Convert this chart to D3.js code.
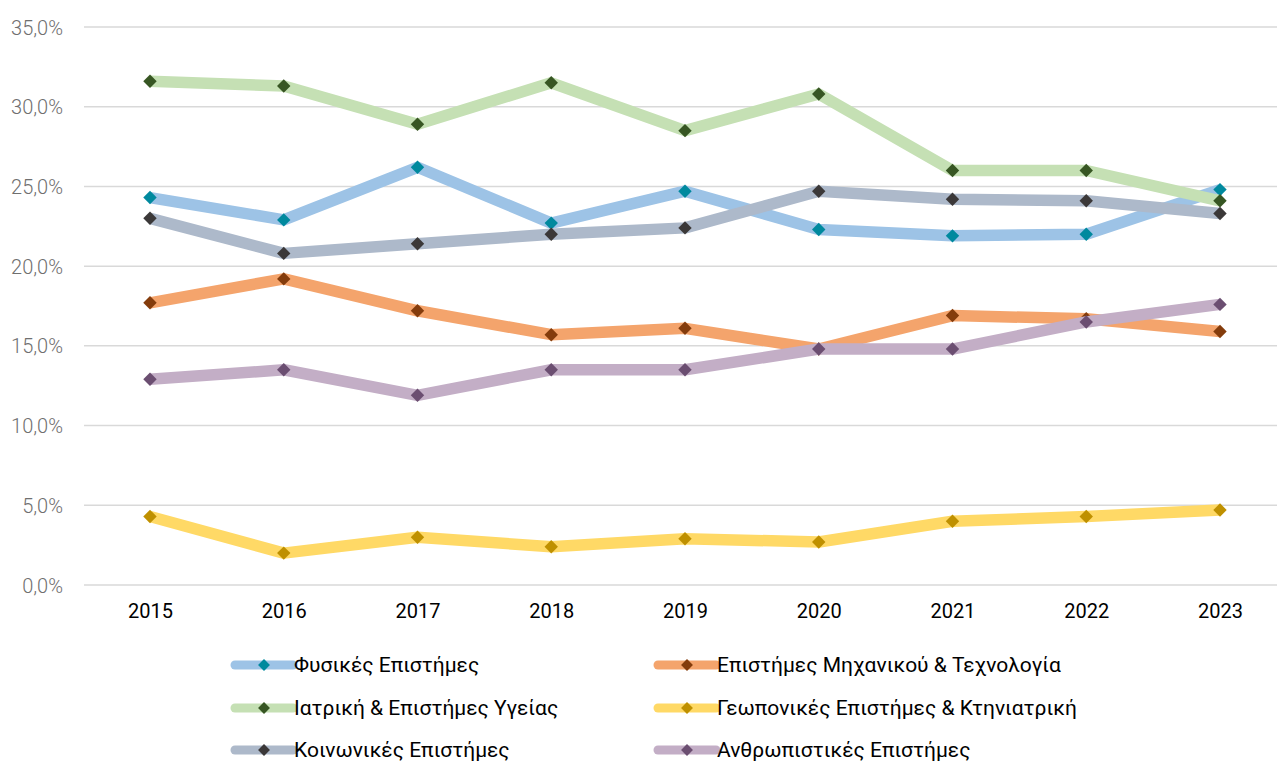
<!DOCTYPE html>
<html>
<head>
<meta charset="utf-8">
<script src="https://cdn.jsdelivr.net/npm/d3@7"></script>
<style>
  html, body { margin: 0; padding: 0; background: #fff; }
  svg { display: block; font-family: Roboto, "DejaVu Sans", sans-serif; }
</style>
</head>
<body>
<svg id="chart" width="1277" height="762"></svg>
<script>
// Years on the horizontal axis
const years = ["2015", "2016", "2017", "2018", "2019", "2020", "2021", "2022", "2023"];

// Share of each scientific field per year (%)
const physical   = [24.3, 22.9, 26.2, 22.7, 24.7, 22.3, 21.9, 22.0, 24.8];
const engineering = [17.7, 19.2, 17.2, 15.7, 16.1, 14.8, 16.9, 16.7, 15.9];
const medical    = [31.6, 31.3, 28.9, 31.5, 28.5, 30.8, 26.0, 26.0, 24.1];
const agri       = [4.3, 2.0, 3.0, 2.4, 2.9, 2.7, 4.0, 4.3, 4.7];
const social     = [23.0, 20.8, 21.4, 22.0, 22.4, 24.7, 24.2, 24.1, 23.3];
const humanities = [12.9, 13.5, 11.9, 13.5, 13.5, 14.8, 14.8, 16.5, 17.6];

const seriesNames = [
  "Φυσικές Επιστήμες",
  "Επιστήμες Μηχανικού & Τεχνολογία",
  "Ιατρική & Επιστήμες Υγείας",
  "Γεωπονικές Επιστήμες & Κτηνιατρική",
  "Κοινωνικές Επιστήμες",
  "Ανθρωπιστικές Επιστήμες"
];
const yTicks = [0, 5, 10, 15, 20, 25, 30, 35];

const lineColors   = ["#9DC3E6", "#F4A46C", "#C5E0B4", "#FFD966", "#ADB9CA", "#C3AEC6"];
const markerColors = ["#00899E", "#843C0C", "#375623", "#BF9000", "#3B3838", "#6B4E71"];

const seriesValues = [physical, engineering, medical, agri, social, humanities];
const series = seriesNames.map((name, i) => ({
  name, values: seriesValues[i], line: lineColors[i], marker: markerColors[i]
}));

const svg = d3.select("#chart");
const plot = { left: 84, right: 1277, top: 27, bottom: 585 };

const x = d3.scalePoint().domain(years).range([150, 1220]);
const y = d3.scaleLinear().domain([0, 35]).range([plot.bottom, plot.top]);

// Horizontal gridlines
svg.append("g").selectAll("line").data(yTicks).join("line")
  .attr("x1", plot.left).attr("x2", plot.right)
  .attr("y1", d => y(d)).attr("y2", d => y(d))
  .attr("stroke", "#d9d9d9").attr("stroke-width", 1.5);

// Y axis labels
const yAxis = svg.append("g")
  .attr("transform", `translate(${plot.left - 21},0)`)
  .call(d3.axisLeft(y).tickValues(yTicks).tickSize(0).tickPadding(0)
    .tickFormat(d => d3.format(".1f")(d).replace(".", ",") + "%"));
yAxis.select(".domain").remove();
yAxis.selectAll("text").attr("fill", "#6f6f6f").attr("font-size", 20)
  .attr("font-weight", 300)
  .attr("font-family", "Roboto, sans-serif").attr("dy", "0.35em");

// X axis labels
const xAxis = svg.append("g")
  .attr("transform", `translate(0,${plot.bottom + 26})`)
  .call(d3.axisBottom(x).tickSize(0).tickPadding(0));
xAxis.select(".domain").remove();
xAxis.selectAll("text").attr("fill", "#000").attr("font-size", 20)
  .attr("font-family", "Roboto, sans-serif").attr("dy", "0.35em");

const line = d3.line().x((d, i) => x(years[i])).y(d => y(d));
const diamond = d3.symbol().type(d3.symbolDiamond2).size(115);

// Series lines with diamond markers
series.forEach(s => {
  const g = svg.append("g");
  g.append("path").datum(s.values)
    .attr("d", line).attr("fill", "none")
    .attr("stroke", s.line).attr("stroke-width", 11.5)
    .attr("stroke-linejoin", "round").attr("stroke-linecap", "butt");
  g.selectAll("path.m").data(s.values).join("path").attr("class", "m")
    .attr("transform", (d, i) => `translate(${x(years[i])},${y(d)})`)
    .attr("d", diamond).attr("fill", s.marker);
});

// Legend in two columns
const legendCols = [235, 658];
const legendRows = [665, 708, 750];
series.forEach((s, i) => {
  const cx = legendCols[i % 2];
  const cy = legendRows[Math.floor(i / 2)];
  const g = svg.append("g").attr("transform", `translate(${cx},${cy})`);
  g.append("line").attr("x1", 0).attr("x2", 58).attr("y1", 0).attr("y2", 0)
    .attr("stroke", s.line).attr("stroke-width", 9).attr("stroke-linecap", "round");
  g.append("path").attr("transform", "translate(29,0)")
    .attr("d", d3.symbol().type(d3.symbolDiamond2).size(90)).attr("fill", s.marker);
  g.append("text").attr("x", 59).attr("y", 0).attr("dy", "0.35em")
    .attr("font-size", 21).attr("fill", "#000").text(s.name);
});
</script>
</body>
</html>
